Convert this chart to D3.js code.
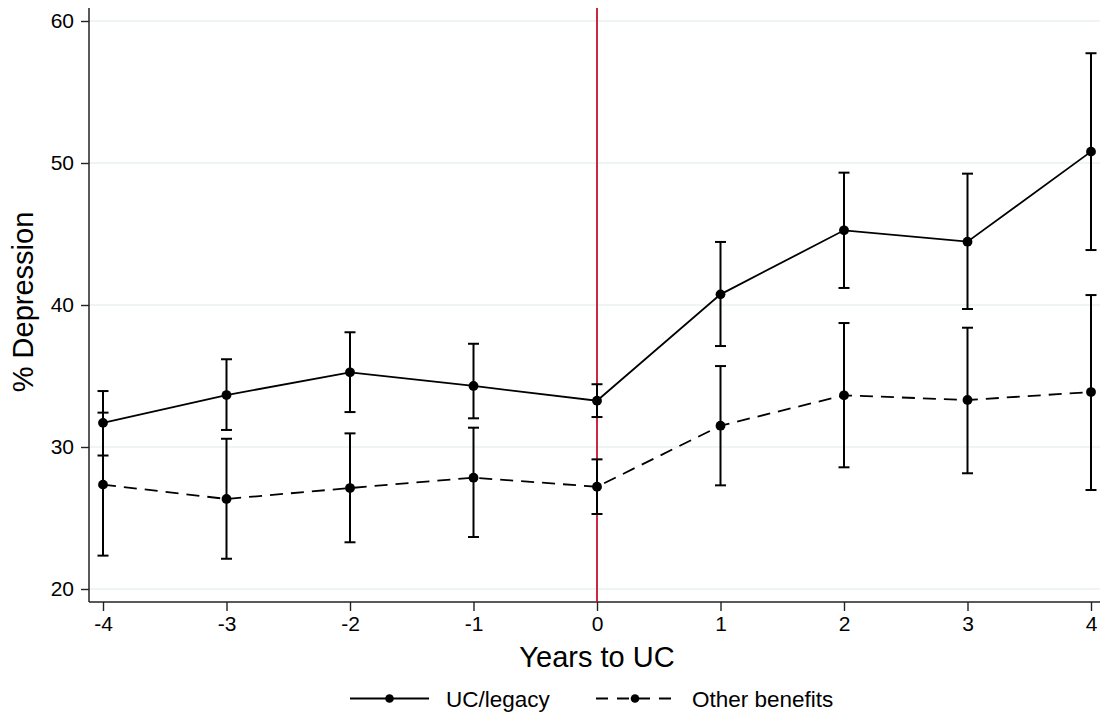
<!DOCTYPE html>
<html>
<head>
<meta charset="utf-8">
<script src="https://cdn.jsdelivr.net/npm/d3@7"></script>
<style>
  html, body { margin: 0; padding: 0; background: #fff; }
  svg { display: block; font-family: "Liberation Sans", Arial, sans-serif; }
</style>
</head>
<body>
<svg id="chart" width="1101" height="717"></svg>
<script>
// ---- data ----
const years = [-4, -3, -2, -1, 0, 1, 2, 3, 4];
const ucValues  = [31.7, 33.66, 35.26, 34.3, 33.26, 40.75, 45.26, 44.46, 50.8];
const ucLower   = [29.4, 31.2, 32.46, 32.02, 32.11, 37.11, 41.2, 39.72, 43.87];
const ucUpper   = [33.94, 36.18, 38.08, 37.27, 34.42, 44.44, 49.32, 49.25, 57.73];
const otherValues = [27.35, 26.34, 27.11, 27.84, 27.2, 31.5, 33.64, 33.31, 33.87];
const otherLower  = [22.35, 22.13, 23.29, 23.66, 25.28, 27.3, 28.57, 28.15, 26.97];
const otherUpper  = [32.42, 30.58, 30.96, 31.36, 29.13, 35.7, 38.73, 38.4, 40.7];
const yTicks = [20, 30, 40, 50, 60];
const xTicks = years;
const seriesNames = ["UC/legacy", "Other benefits"];
const eventYear = 0;

// ---- layout ----
const svg = d3.select("#chart");
const plotLeft = 89, plotRight = 1100, plotTop = 8, plotBottom = 602;
const x = d3.scaleLinear().domain([-4, 4]).range([103, 1091]);
const y = d3.scaleLinear().domain([20, 60]).range([589, 21]);

const gridColor = "#eaf1f3";
const axisColor = "#222";
const dashPattern = "13,8";

// gridlines
svg.append("g").selectAll("line").data(yTicks).join("line")
  .attr("x1", plotLeft).attr("x2", plotRight)
  .attr("y1", d => y(d)).attr("y2", d => y(d))
  .attr("stroke", gridColor).attr("stroke-width", 1.6);

// y axis
const yAxis = svg.append("g").attr("transform", `translate(${plotLeft},0)`)
  .call(d3.axisLeft(y).tickValues(yTicks).tickSize(8).tickPadding(7).tickSizeOuter(0));
yAxis.select(".domain").remove();
yAxis.selectAll(".tick line").attr("stroke", axisColor).attr("stroke-width", 1.4);
yAxis.selectAll(".tick text").attr("font-size", 21).attr("fill", "#000")
  .attr("font-family", "Liberation Sans, Arial, sans-serif");
svg.append("line").attr("x1", plotLeft).attr("x2", plotLeft)
  .attr("y1", plotTop).attr("y2", plotBottom)
  .attr("stroke", axisColor).attr("stroke-width", 1.5);

// x axis
const xAxis = svg.append("g").attr("transform", `translate(0,${plotBottom})`)
  .call(d3.axisBottom(x).tickValues(xTicks).tickFormat(d3.format("d")).tickSize(9).tickPadding(5).tickSizeOuter(0));
xAxis.select(".domain").remove();
xAxis.selectAll(".tick line").attr("stroke", axisColor).attr("stroke-width", 1.4);
xAxis.selectAll(".tick text").attr("font-size", 21).attr("fill", "#000")
  .attr("font-family", "Liberation Sans, Arial, sans-serif")
  .text(d => d < 0 ? "-" + Math.abs(d) : String(d));
svg.append("line").attr("x1", plotLeft).attr("x2", plotRight)
  .attr("y1", plotBottom).attr("y2", plotBottom)
  .attr("stroke", axisColor).attr("stroke-width", 1.5);

// vertical event line
svg.append("line")
  .attr("x1", x(eventYear)).attr("x2", x(eventYear))
  .attr("y1", plotTop).attr("y2", plotBottom)
  .attr("stroke", "#c8102e").attr("stroke-width", 1.8);

// series
const series = [
  { name: seriesNames[0], vals: ucValues, lo: ucLower, hi: ucUpper, dash: null },
  { name: seriesNames[1], vals: otherValues, lo: otherLower, hi: otherUpper, dash: dashPattern }
];

const line = d3.line().x(d => x(d.yr)).y(d => y(d.v));

series.forEach(s => {
  const pts = years.map((yr, i) => ({ yr, v: s.vals[i], lo: s.lo[i], hi: s.hi[i] }));
  const g = svg.append("g");
  // error bars
  g.selectAll("line.eb").data(pts).join("line").attr("class", "eb")
    .attr("x1", d => x(d.yr)).attr("x2", d => x(d.yr))
    .attr("y1", d => y(d.lo)).attr("y2", d => y(d.hi))
    .attr("stroke", "#000").attr("stroke-width", 2);
  g.selectAll("line.capHi").data(pts).join("line").attr("class", "capHi")
    .attr("x1", d => x(d.yr) - 5.5).attr("x2", d => x(d.yr) + 5.5)
    .attr("y1", d => y(d.hi)).attr("y2", d => y(d.hi))
    .attr("stroke", "#000").attr("stroke-width", 2);
  g.selectAll("line.capLo").data(pts).join("line").attr("class", "capLo")
    .attr("x1", d => x(d.yr) - 5.5).attr("x2", d => x(d.yr) + 5.5)
    .attr("y1", d => y(d.lo)).attr("y2", d => y(d.lo))
    .attr("stroke", "#000").attr("stroke-width", 2);
  // connecting line
  g.append("path").datum(pts).attr("d", line)
    .attr("fill", "none").attr("stroke", "#000").attr("stroke-width", 1.8)
    .attr("stroke-dasharray", s.dash);
  // markers
  g.selectAll("circle").data(pts).join("circle")
    .attr("cx", d => x(d.yr)).attr("cy", d => y(d.v)).attr("r", 4.9)
    .attr("fill", "#000");
});

// axis titles
svg.append("text").attr("x", 597).attr("y", 667)
  .attr("text-anchor", "middle").attr("font-size", 29).attr("fill", "#000")
  .text("Years to UC");
svg.append("text").attr("transform", "translate(33,302) rotate(-90)")
  .attr("text-anchor", "middle").attr("font-size", 29).attr("fill", "#000")
  .text("% Depression");

// legend
const legendItems = [
  { name: seriesNames[0], dash: null, x0: 350, x1: 429, tx: 446 },
  { name: seriesNames[1], dash: "12,9", x0: 596, x1: 674, tx: 692 }
];
const legY = 698.5;
legendItems.forEach(l => {
  svg.append("line").attr("x1", l.x0).attr("x2", l.x1).attr("y1", legY).attr("y2", legY)
    .attr("stroke", "#000").attr("stroke-width", 1.8).attr("stroke-dasharray", l.dash);
  svg.append("circle").attr("cx", (l.x0 + l.x1) / 2).attr("cy", legY).attr("r", 4.3).attr("fill", "#000");
  svg.append("text").attr("x", l.tx).attr("y", 707).attr("font-size", 22.5).attr("fill", "#000")
    .text(l.name);
});
</script>
</body>
</html>
